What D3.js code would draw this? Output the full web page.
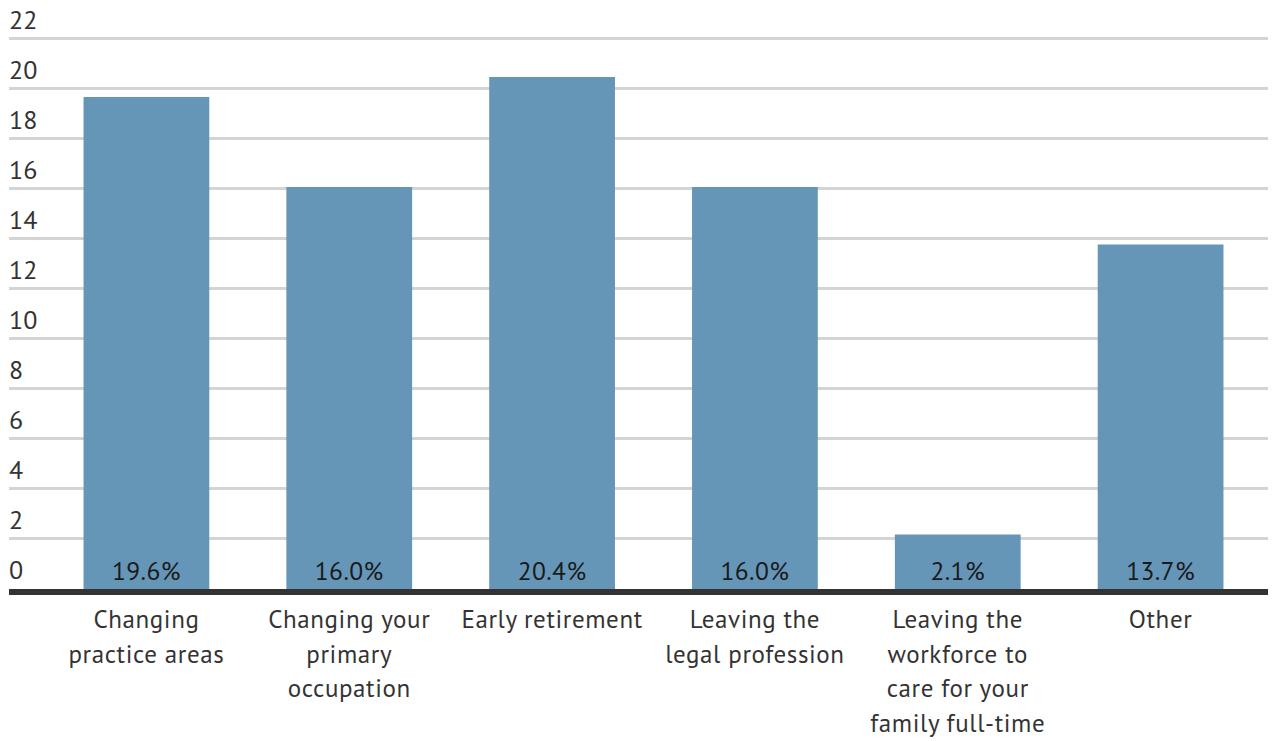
<!DOCTYPE html>
<html>
<head>
<meta charset="utf-8">
<script src="https://cdn.jsdelivr.net/npm/d3@7"></script>
<style>
  html, body { margin: 0; padding: 0; background: #fff; }
  svg { display: block; font-family: "PT Sans", Lato, "Open Sans", sans-serif; }
</style>
</head>
<body>
<svg id="chart" width="1272" height="741"></svg>
<script>
// Reasons given for the considered career change (% of respondents)
const categories = [
  "Changing practice areas",
  "Changing your primary occupation",
  "Early retirement",
  "Leaving the legal profession",
  "Leaving the workforce to care for your family full-time",
  "Other"
];
// Wrapped label lines for the category axis
const categoryLines = [
  ["Changing", "practice areas"],
  ["Changing your", "primary", "occupation"],
  ["Early retirement"],
  ["Leaving the", "legal profession"],
  ["Leaving the", "workforce to", "care for your", "family full-time"],
  ["Other"]
];
const values = [19.6, 16.0, 20.4, 16.0, 2.1, 13.7];
const yTicks = [0, 2, 4, 6, 8, 10, 12, 14, 16, 18, 20, 22];

const svg = d3.select("#chart");
const gridLeft = 9, gridRight = 1268;
const plotLeft = 45, plotRight = 1262;
const yTop = 37, yBottom = 587;

const x = d3.scaleBand()
  .domain(categories)
  .range([plotLeft, plotRight])
  .paddingInner(0.38)
  .paddingOuter(0.19);

const y = d3.scaleLinear().domain([0, 22]).range([yBottom, yTop]);

// Horizontal gridlines (3px, hanging just below each value)
svg.append("g")
  .selectAll("line")
  .data(yTicks.filter(t => t > 0))
  .join("line")
  .attr("x1", gridLeft).attr("x2", gridRight)
  .attr("y1", d => y(d) + 1.5).attr("y2", d => y(d) + 1.5)
  .attr("stroke", "#d4d4d4")
  .attr("stroke-width", 3);

// Tick labels sit above their gridline, left aligned
svg.append("g")
  .selectAll("text")
  .data(yTicks)
  .join("text")
  .attr("x", 9)
  .attr("y", d => y(d) - 8.5)
  .attr("fill", "#333")
  .attr("font-size", 26)
  .text(d => d);

// Bars, running down into the baseline
svg.append("g")
  .selectAll("rect")
  .data(values)
  .join("rect")
  .attr("x", (d, i) => x(categories[i]))
  .attr("width", x.bandwidth())
  .attr("y", d => y(d))
  .attr("height", d => y(0) - y(d) + 3)
  .attr("fill", "#6596b8");

// Value labels at the foot of each bar
svg.append("g")
  .selectAll("text")
  .data(values)
  .join("text")
  .attr("x", (d, i) => x(categories[i]) + x.bandwidth() / 2)
  .attr("y", y(0) - 7)
  .attr("text-anchor", "middle")
  .attr("fill", "#1a1a1a")
  .attr("font-size", 25.5)
  .attr("letter-spacing", 0.4)
  .text(d => d.toFixed(1) + "%");

// Baseline
svg.append("line")
  .attr("x1", gridLeft).attr("x2", gridRight)
  .attr("y1", y(0) + 5).attr("y2", y(0) + 5)
  .attr("stroke", "#333")
  .attr("stroke-width", 6);

// Category labels
const xl = svg.append("g")
  .selectAll("text")
  .data(categories)
  .join("text")
  .attr("text-anchor", "middle")
  .attr("fill", "#333")
  .attr("font-size", 25)
  .attr("letter-spacing", 0.6);
xl.each(function(d, i) {
  const cx = x(d) + x.bandwidth() / 2;
  d3.select(this).selectAll("tspan")
    .data(categoryLines[i])
    .join("tspan")
    .attr("x", cx)
    .attr("y", (l, j) => 628 + j * 34.6)
    .text(l => l);
});
</script>
</body>
</html>
